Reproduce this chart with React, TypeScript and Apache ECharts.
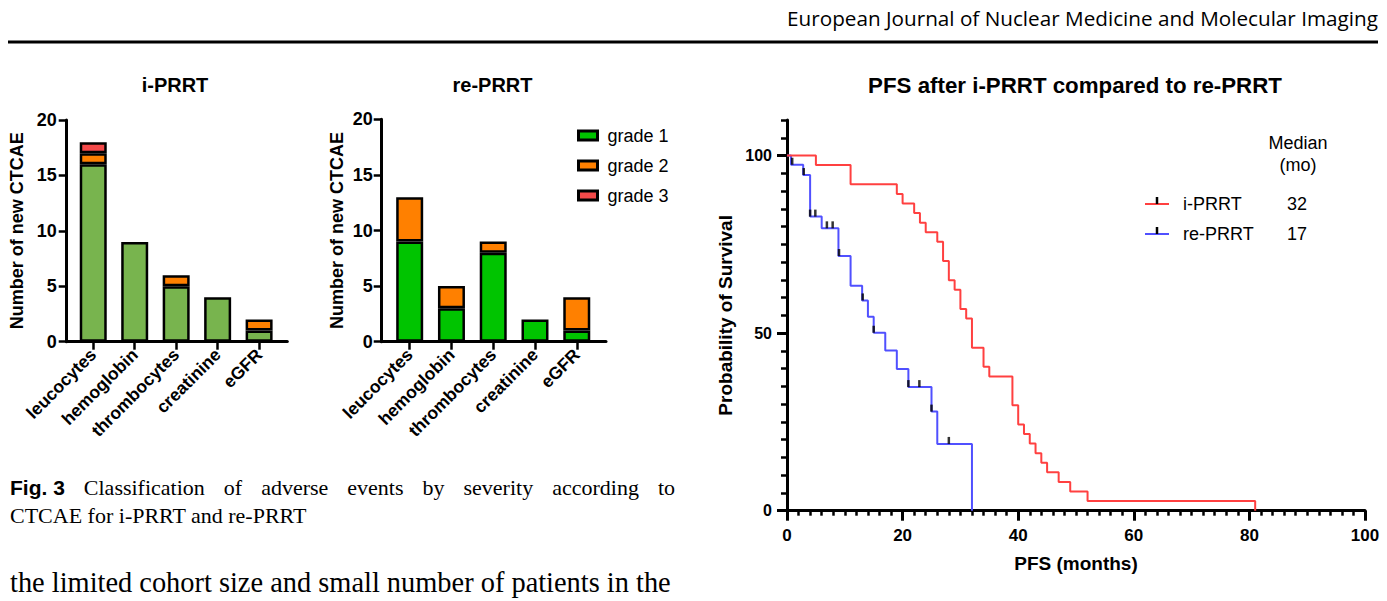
import React, { useEffect, useRef } from 'react';
import * as echarts from 'echarts';

// ---------- data ----------
const categories = ['leucocytes', 'hemoglobin', 'thrombocytes', 'creatinine', 'eGFR'];
const gradeNames = ['grade 1', 'grade 2', 'grade 3'];
const iGrade1 = [16, 9, 5, 4, 1];
const iGrade2 = [1, 0, 1, 0, 1];
const iGrade3 = [1, 0, 0, 0, 0];
const reGrade1 = [9, 3, 8, 2, 1];
const reGrade2 = [4, 2, 1, 0, 3];
const reGrade3 = [0, 0, 0, 0, 0];

const iTime = [0, 5, 11, 19, 20, 22, 23, 24, 26, 27, 28, 29, 30, 31, 32, 34, 35, 39, 40, 41, 42, 43, 44, 45, 47, 49, 52, 81];
const iSurv = [100, 97.3, 91.9, 89.2, 86.5, 83.8, 81.1, 78.4, 75.7, 70.3, 64.9, 62.2, 56.8, 54.1, 45.9, 40.5, 37.8, 29.7, 24.3, 21.6, 18.9, 16.2, 13.5, 10.8, 8.1, 5.4, 2.7, 0];
const reTime = [0, 0.7, 2.8, 4, 6, 8.9, 11, 13, 14, 15, 17, 19, 21, 25, 26, 32];
const reSurv = [100, 97.4, 94.5, 82.8, 79.5, 71.7, 63.3, 59.2, 54.6, 50.1, 45.1, 39.9, 34.8, 27.9, 18.8, 0];
const reCensorTime = [0.9, 2.9, 4.0, 4.9, 6.9, 7.9, 9.0, 13.1, 15.0, 21.0, 22.9, 25.0, 28.0];
const reCensorSurv = [97.4, 94.5, 82.8, 82.8, 79.5, 79.5, 71.7, 59.2, 50.1, 34.8, 34.8, 27.9, 18.8];
const kmNames = ['i-PRRT', 're-PRRT'];
const kmMedians = [32, 17];

const captionWords = ['Classification', 'of', 'adverse', 'events', 'by', 'severity', 'according', 'to'];

// ---------- styles ----------
const FONT = "'Liberation Sans', Arial, Helvetica, sans-serif";
const SERIF = "'Liberation Serif', 'Times New Roman', serif";
const HEADER = "'Open Sans', 'Liberation Sans', Arial, sans-serif";
const iColors = ['#78B44E', '#FF8000', '#F44A4A'];
const reColors = ['#00C400', '#FF8000', '#F44A4A'];
const RED = '#FF4040';
const BLUE = '#5050FF';

function measure(text: string, font: string): number {
  const ctx = document.createElement('canvas').getContext('2d')!;
  ctx.font = font;
  return ctx.measureText(text).width;
}

function txt(x: number, y: number, text: string, o: any = {}) {
  const align = o.align || 'left';
  return {
    type: 'text',
    x,
    y,
    silent: true,
    style: {
      text,
      fill: '#000',
      fontSize: o.fontSize || 18,
      fontFamily: o.fontFamily || FONT,
      fontWeight: o.fontWeight || 'normal',
      align,
      textAlign: align,
      verticalAlign: 'middle',
      textVerticalAlign: 'middle',
    },
  };
}

function barXAxis(gridIndex: number, min: number, max: number) {
  const idx = categories.map((_, i) => i);
  return {
    type: 'value',
    gridIndex,
    min,
    max,
    position: 'bottom',
    axisLine: { show: true, onZero: false, lineStyle: { color: '#000', width: 3 } },
    axisTick: { show: true, customValues: idx, length: 8, lineStyle: { color: '#000', width: 2.5 } },
    axisLabel: {
      show: true,
      customValues: idx,
      formatter: (v: number) => categories[Math.round(v)] ?? '',
      rotate: 45,
      margin: 10,
      fontSize: 17.5,
      fontWeight: 'bold',
      fontFamily: FONT,
      color: '#000',
    },
    splitLine: { show: false },
  };
}

function barYAxis(gridIndex: number, nameGap: number, labelMargin: number) {
  return {
    type: 'value',
    gridIndex,
    min: 0,
    max: 20,
    interval: 5,
    position: 'left',
    name: 'Number of new CTCAE',
    nameLocation: 'middle',
    nameGap,
    nameTextStyle: { fontSize: 18, fontWeight: 'bold', fontFamily: FONT, color: '#000' },
    axisLine: { show: true, onZero: false, lineStyle: { color: '#000', width: 3 } },
    axisTick: { show: true, length: 8, lineStyle: { color: '#000', width: 2.5 } },
    axisLabel: { margin: labelMargin, fontSize: 18, fontWeight: 'bold', fontFamily: FONT, color: '#000' },
    splitLine: { show: false },
  };
}

function barSeries(axisIndex: number, stack: string, grades: number[][], colors: string[]) {
  return grades.map((vals, g) => ({
    type: 'bar',
    name: gradeNames[g],
    xAxisIndex: axisIndex,
    yAxisIndex: axisIndex,
    stack,
    barWidth: 27,
    encode: { x: 1, y: 0 },
    data: vals.map((v, k) => [v > 0 ? v : '-', k]),
    itemStyle: { color: colors[g], borderColor: '#000', borderWidth: 2.5 },
    emphasis: { disabled: true },
  }));
}

function buildOption() {
  // justified caption line
  const capSize = 22;
  const figFont = `bold ${capSize - 1}px ${FONT}`;
  const serifFont = `${capSize}px ${SERIF}`;
  const capLeft = 10;
  const capRight = 675;
  const figW = measure('Fig. 3', figFont);
  const widths = captionWords.map((w) => measure(w, serifFont));
  const total = widths.reduce((a, b) => a + b, 0);
  const gap = (capRight - capLeft - figW - total) / captionWords.length;
  const capTexts: any[] = [txt(capLeft, 487, 'Fig. 3', { fontSize: capSize - 1, fontWeight: 'bold' })];
  let cx = capLeft + figW + gap;
  captionWords.forEach((w, i) => {
    capTexts.push(txt(cx, 487, w, { fontSize: capSize, fontFamily: SERIF }));
    cx += widths[i] + gap;
  });

  const kmLegend: any[] = [];
  [RED, BLUE].forEach((c, i) => {
    const y = 204 + i * 30;
    kmLegend.push({ type: 'line', silent: true, shape: { x1: 1145, y1: y, x2: 1169, y2: y }, style: { stroke: c, lineWidth: 2 } });
    kmLegend.push({ type: 'line', silent: true, shape: { x1: 1157, y1: y, x2: 1157, y2: y - 7 }, style: { stroke: '#000', lineWidth: 2.5 } });
    kmLegend.push(txt(1183, y, kmNames[i], { fontSize: 18 }));
    kmLegend.push(txt(1297, y, String(kmMedians[i]), { fontSize: 18, align: 'center' }));
  });

  return {
    animation: false,
    backgroundColor: '#fff',
    textStyle: { fontFamily: FONT },
    grid: [
      { left: 66.7, top: 120, width: 220.6, height: 221.7, containLabel: false },
      { left: 381.7, top: 119.3, width: 224.3, height: 222.4, containLabel: false },
      { left: 787, top: 120, width: 578, height: 390.7, containLabel: false },
    ],
    legend: [
      {
        data: gradeNames.map((n, i) => ({ name: n, itemStyle: { color: reColors[i], borderColor: '#000', borderWidth: 3 } })),
        orient: 'vertical',
        left: 572,
        top: 120.5,
        icon: 'rect',
        itemWidth: 19,
        itemHeight: 9,
        itemGap: 10,
        selectedMode: false,
        itemStyle: { borderColor: '#000', borderWidth: 3 },
        textStyle: { fontSize: 18, fontFamily: FONT, color: '#000', lineHeight: 20, padding: [0, 0, 0, 5] },
      },
    ],
    xAxis: [
      barXAxis(0, -0.64, 4.68),
      barXAxis(1, -0.67, 4.7),
      {
        type: 'value', gridIndex: 2, min: 0, max: 100, interval: 2, position: 'bottom',
        axisLine: { show: true, onZero: false, lineStyle: { color: '#000', width: 3 } },
        axisTick: { show: true, length: 5, lineStyle: { color: '#000', width: 2.5 } },
        axisLabel: { show: false },
        splitLine: { show: false },
      },
      {
        type: 'value', gridIndex: 2, min: 0, max: 100, interval: 20, position: 'bottom',
        name: 'PFS (months)', nameLocation: 'middle', nameGap: 43,
        nameTextStyle: { fontSize: 19, fontWeight: 'bold', fontFamily: FONT, color: '#000' },
        axisLine: { show: false, onZero: false },
        axisTick: { show: true, length: 10, lineStyle: { color: '#000', width: 3 } },
        axisLabel: { margin: 16, fontSize: 17, fontWeight: 'bold', fontFamily: FONT, color: '#000' },
        splitLine: { show: false },
      },
    ],
    yAxis: [
      barYAxis(0, 41, 10),
      barYAxis(1, 36, 9),
      {
        type: 'value', gridIndex: 2, min: 0, max: 110, interval: 5, position: 'left',
        axisLine: { show: true, onZero: false, lineStyle: { color: '#000', width: 3 } },
        axisTick: { show: true, length: 6, lineStyle: { color: '#000', width: 2.5 } },
        axisLabel: { show: false },
        splitLine: { show: false },
      },
      {
        type: 'value', gridIndex: 2, min: 0, max: 110, interval: 5, position: 'left',
        name: 'Probability of Survival', nameLocation: 'middle', nameGap: 52,
        nameTextStyle: { fontSize: 19, fontWeight: 'bold', fontFamily: FONT, color: '#000' },
        axisLine: { show: false, onZero: false },
        axisTick: { show: true, customValues: [0, 50, 100], length: 10, lineStyle: { color: '#000', width: 3 } },
        axisLabel: { customValues: [0, 50, 100], margin: 15, fontSize: 16, fontWeight: 'bold', fontFamily: FONT, color: '#000' },
        splitLine: { show: false },
      },
    ],
    series: [
      ...barSeries(0, 'i', [iGrade1, iGrade2, iGrade3], iColors),
      ...barSeries(1, 're', [reGrade1, reGrade2, reGrade3], reColors),
      {
        type: 'line', name: kmNames[1], xAxisIndex: 2, yAxisIndex: 2, step: 'end',
        data: reTime.map((t, k) => [t, reSurv[k]]),
        showSymbol: false, symbol: 'none',
        lineStyle: { color: BLUE, width: 2 }, itemStyle: { color: BLUE },
        emphasis: { disabled: true }, z: 3,
      },
      {
        type: 'line', name: kmNames[0], xAxisIndex: 2, yAxisIndex: 2, step: 'end',
        data: iTime.map((t, k) => [t, iSurv[k]]),
        showSymbol: false, symbol: 'none',
        lineStyle: { color: RED, width: 2 }, itemStyle: { color: RED },
        emphasis: { disabled: true }, z: 4,
      },
      {
        type: 'scatter', name: 'censored', xAxisIndex: 2, yAxisIndex: 2,
        data: reCensorTime.map((t, k) => [t, reCensorSurv[k]]),
        symbol: 'rect', symbolSize: [2.5, 7], symbolOffset: [0, -3.5],
        itemStyle: { color: '#000' }, emphasis: { disabled: true }, z: 5, silent: true,
      },
    ],
    graphic: [
      txt(1378, 18, 'European Journal of Nuclear Medicine and Molecular Imaging', { fontSize: 20.7, fontFamily: HEADER, align: 'right' }),
      { type: 'line', silent: true, shape: { x1: 8, y1: 42, x2: 1378, y2: 42 }, style: { stroke: '#000', lineWidth: 3 } },
      txt(175, 85, 'i-PRRT', { fontSize: 20, fontWeight: 'bold', align: 'center' }),
      txt(492.5, 85, 're-PRRT', { fontSize: 20, fontWeight: 'bold', align: 'center' }),
      txt(1075, 85, 'PFS after i-PRRT compared to re-PRRT', { fontSize: 22.3, fontWeight: 'bold', align: 'center' }),
      txt(1298, 143, 'Median', { fontSize: 18, align: 'center' }),
      txt(1298, 165, '(mo)', { fontSize: 18, align: 'center' }),
      ...kmLegend,
      ...capTexts,
      txt(capLeft, 515, 'CTCAE for i-PRRT and re-PRRT', { fontSize: capSize, fontFamily: SERIF }),
      txt(capLeft, 582, 'the limited cohort size and small number of patients in the', { fontSize: 28.4, fontFamily: SERIF }),
    ],
  };
}

export default function App() {
  const ref = useRef<HTMLDivElement>(null);
  useEffect(() => {
    const chart = echarts.init(ref.current!, null, { renderer: 'svg' });
    chart.setOption(buildOption() as any);
    return () => chart.dispose();
  }, []);
  return (
    <div
      ref={ref}
      style={{ position: 'absolute', left: 0, top: 0, width: 1387, height: 601, background: '#fff' }}
    />
  );
}
